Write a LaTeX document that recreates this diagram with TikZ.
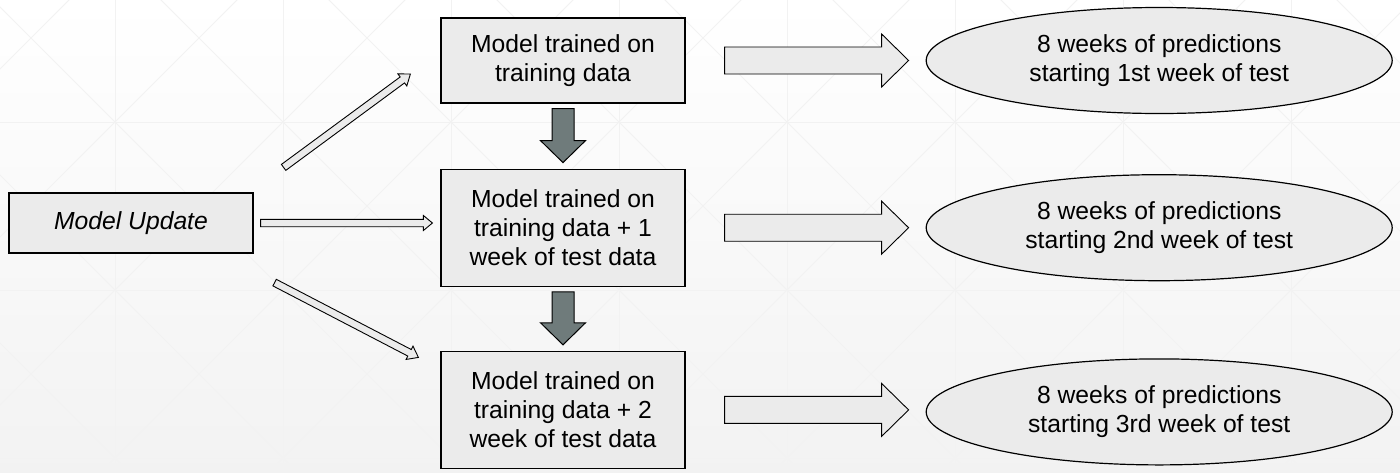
\documentclass[tikz,border=0pt]{standalone}
\usepackage{fontspec}
\setmainfont{Liberation Sans}
\usetikzlibrary{positioning,calc,shapes.geometric}

\definecolor{boxgray}{RGB}{235,235,235}
\definecolor{slate}{RGB}{111,123,123}

% [style]{from}{to}{shaft half width}{head half width}{head length}
\newcommand{\fatarrow}[6][]{%
  \coordinate (fa-h) at ($(#3)!#6!(#2)$);
  \draw[#1] ($(#2)!#4!90:(#3)$) -- ($(fa-h)!#4!-90:(#2)$) -- ($(fa-h)!#5!-90:(#2)$) -- (#3)
    -- ($(fa-h)!#5!90:(#2)$) -- ($(fa-h)!#4!90:(#2)$) -- ($(#2)!#4!-90:(#3)$) -- cycle;
}

\begin{document}
\begin{tikzpicture}
[x=1pt,y=1pt,every node/.style={font=\fontsize{24.7}{29}\selectfont,align=center},
 box/.style={rectangle,draw=black,line width=1.2pt,fill=boxgray,minimum width=244pt},
 oval/.style={ellipse,draw=black,line width=1.2pt,fill=boxgray,minimum width=466pt,minimum height=106pt,inner sep=0pt},
 gridline/.style={draw=black!5,line width=1pt},
 thinarrow/.style={draw=black,line width=0.9pt,fill=boxgray},
 fatgray/.style={draw=black,line width=1pt,fill=slate}]

\useasboundingbox (0,0) rectangle (1400,-472);
\fill[top color=white,bottom color=black!5] (0,0) rectangle (1400,-472);
\begin{scope}
\clip (0,0) rectangle (1400,-472);
\draw[gridline,shift={(115,-122)}] (-336,-504) grid[step=168pt] (1344,168);
\draw[gridline,shift={(115,-122)},rotate=45] (-1300,-1300) grid[step=118.794pt] (1300,1300);
\end{scope}

\node[box,minimum height=60pt] (upd) at (131,-223) {\textit{Model Update}};
\node[box,minimum height=85pt] (m1) at (563,-60.5) {Model trained on\\training data};
\node[box,minimum height=117pt,below=65pt of m1] (m2) {Model trained on\\training data + 1\\week of test data};
\node[box,minimum height=117pt,below=64pt of m2] (m3) {Model trained on\\training data + 2\\week of test data};

\node[oval,right=240pt of m1] (e1) {8 weeks of predictions\\starting 1st week of test};
\node[oval,right=240pt of m2] (e2) {8 weeks of predictions\\starting 2nd week of test};
\node[oval,right=240pt of m3,yshift=-2pt] (e3) {8 weeks of predictions\\starting 3rd week of test};

\coordinate (s1) at ($(upd.north east)+(30,25)$);
\coordinate (t1) at ($(m1.west)+(-30,-13.5)$);
\coordinate (s2) at ($(upd.east)+(7,0)$);
\coordinate (t2) at ($(m2.west |- upd.east)+(-8,0)$);
\coordinate (s3) at ($(upd.south east)+(21,-29)$);
\coordinate (t3) at ($(m3.west)+(-22,52.5)$);
\fatarrow[thinarrow]{s1}{t1}{3.7pt}{7.5pt}{10pt}
\fatarrow[thinarrow]{s2}{t2}{3.7pt}{7.5pt}{9pt}
\fatarrow[thinarrow]{s3}{t3}{3.7pt}{7.5pt}{10pt}

\coordinate (d1) at ($(m1.south)!5pt!(m2.north)$);
\coordinate (d2) at ($(m2.north)!6pt!(m1.south)$);
\coordinate (d3) at ($(m2.south)!5pt!(m3.north)$);
\coordinate (d4) at ($(m3.north)!6pt!(m2.south)$);
\fatarrow[fatgray]{d1}{d2}{11pt}{22.5pt}{22pt}
\fatarrow[fatgray]{d3}{d4}{11pt}{22.5pt}{22pt}

\coordinate (r1) at ($(m1.east)!39pt!(e1.west)$);
\coordinate (q1) at ($(e1.west)!17pt!(m1.east)$);
\coordinate (r2) at ($(m2.east)!39pt!(e2.west)$);
\coordinate (q2) at ($(e2.west)!17pt!(m2.east)$);
\coordinate (r3) at ($(m3.east)!39pt!(m3.east -| e3.west)$);
\coordinate (q3) at ($(m3.east -| e3.west)!17pt!(m3.east)$);
\fatarrow[thinarrow]{r1}{q1}{13.5pt}{26.5pt}{27pt}
\fatarrow[thinarrow]{r2}{q2}{13.5pt}{26.5pt}{27pt}
\fatarrow[thinarrow]{r3}{q3}{13.5pt}{26.5pt}{27pt}
\end{tikzpicture}
\end{document}
